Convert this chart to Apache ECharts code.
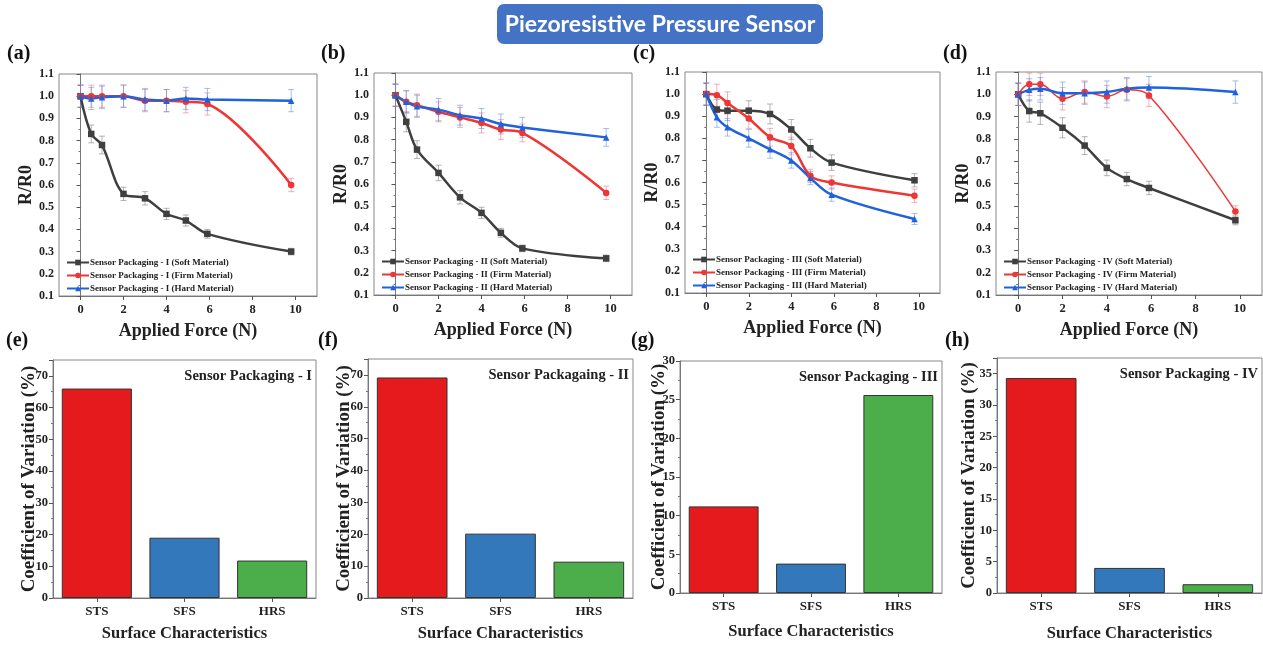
<!DOCTYPE html>
<html><head><meta charset="utf-8">
<script src="https://cdn.jsdelivr.net/npm/echarts@6/dist/echarts.min.js"></script>
<style>html,body{margin:0;padding:0;background:#fff}#main{width:1263px;height:645px}</style>
</head><body><div id="main"></div>
<script>
// ---------- data ----------
const forceX = [0, 0.5, 1, 2, 3, 4, 4.9, 5.9, 9.8];
const xTicks = [0, 2, 4, 6, 8, 10];

const softA = [1.0, 0.83, 0.78, 0.56, 0.54, 0.47, 0.44, 0.38, 0.30];
const firmA = [1.0, 1.0, 1.0, 1.0, 0.98, 0.98, 0.975, 0.965, 0.60];
const hardA = [1.0, 0.99, 0.995, 1.0, 0.985, 0.98, 0.99, 0.985, 0.98];
const softB = [1.0, 0.88, 0.755, 0.65, 0.54, 0.47, 0.38, 0.31, 0.265];
const firmB = [1.0, 0.97, 0.955, 0.925, 0.90, 0.875, 0.845, 0.83, 0.56];
const hardB = [1.0, 0.97, 0.95, 0.935, 0.91, 0.895, 0.87, 0.855, 0.81];
const softC = [1.0, 0.93, 0.925, 0.925, 0.91, 0.84, 0.755, 0.69, 0.61];
const firmC = [1.0, 0.995, 0.96, 0.89, 0.805, 0.765, 0.63, 0.60, 0.54];
const hardC = [1.0, 0.895, 0.85, 0.80, 0.75, 0.70, 0.62, 0.545, 0.435];
const softD = [1.0, 0.925, 0.915, 0.85, 0.77, 0.67, 0.62, 0.58, 0.435];
const firmD = [1.0, 1.045, 1.045, 0.98, 1.01, 0.99, 1.02, 0.995, 0.475];
const hardD = [1.0, 1.02, 1.025, 1.005, 1.005, 1.01, 1.025, 1.03, 1.01];

const errSoftA = [0.05, 0.04, 0.04, 0.03, 0.03, 0.025, 0.025, 0.02, 0.015];
const errFirmA = [0.05, 0.05, 0.05, 0.05, 0.05, 0.05, 0.05, 0.05, 0.03];
const errHardA = [0.05, 0.05, 0.05, 0.05, 0.05, 0.05, 0.05, 0.05, 0.05];
const errSoftB = [0.05, 0.045, 0.04, 0.035, 0.03, 0.025, 0.02, 0.015, 0.015];
const errFirmB = [0.05, 0.05, 0.05, 0.045, 0.045, 0.045, 0.045, 0.04, 0.03];
const errHardB = [0.05, 0.05, 0.05, 0.05, 0.045, 0.045, 0.045, 0.045, 0.04];
const errSoftC = [0.05, 0.045, 0.045, 0.045, 0.045, 0.045, 0.04, 0.035, 0.03];
const errFirmC = [0.05, 0.05, 0.05, 0.045, 0.04, 0.04, 0.03, 0.03, 0.03];
const errHardC = [0.05, 0.045, 0.04, 0.04, 0.04, 0.035, 0.03, 0.03, 0.025];
const errSoftD = [0.05, 0.05, 0.05, 0.045, 0.04, 0.035, 0.03, 0.03, 0.02];
const errFirmD = [0.05, 0.05, 0.05, 0.05, 0.05, 0.05, 0.05, 0.05, 0.025];
const errHardD = [0.05, 0.05, 0.05, 0.05, 0.05, 0.05, 0.05, 0.05, 0.05];

const surfCats = ['STS', 'SFS', 'HRS'];
const cvE = [66, 19, 11.8];
const cvF = [69.2, 20.2, 11.4];
const cvG = [11.2, 3.8, 25.6];
const cvH = [34.3, 4.0, 1.4];

const romans = ['I', 'II', 'III', 'IV'];
const panelTitles = ['Sensor Packaging - I', 'Sensor Packagaing - II', 'Sensor Packaging - III', 'Sensor Packaging - IV'];

// ---------- layout ----------
const lineGrids = [
  {left: 59, top: 74, width: 258, height: 222},
  {left: 374, top: 73, width: 258, height: 222},
  {left: 685, top: 72, width: 255, height: 221},
  {left: 996, top: 72, width: 266, height: 223}
];
const barGrids = [
  {left: 53, top: 360, width: 263, height: 238, max: 75, interval: 10, yGap: 14.5, xGap: 27},
  {left: 368, top: 359, width: 265, height: 239, max: 75, interval: 10, yGap: 14.5, xGap: 27},
  {left: 680, top: 361, width: 262, height: 232, max: 30, interval: 5, yGap: 11, xGap: 30},
  {left: 997, top: 358, width: 265, height: 235, max: 37.5, interval: 5, yGap: 18, xGap: 32}
];

const SERIF = 'Liberation Serif';
const C_SOFT = '#3f3f3f', C_FIRM = '#f03535', C_HARD = '#1f62dc';
const E_SOFT = 'rgba(120,120,120,0.55)', E_FIRM = 'rgba(240,110,130,0.55)', E_HARD = 'rgba(90,140,230,0.55)';

const lineSets = [
  [softA, firmA, hardA, errSoftA, errFirmA, errHardA],
  [softB, firmB, hardB, errSoftB, errFirmB, errHardB],
  [softC, firmC, hardC, errSoftC, errFirmC, errHardC],
  [softD, firmD, hardD, errSoftD, errFirmD, errHardD]
];
const barSets = [cvE, cvF, cvG, cvH];

const grid = [], xAxis = [], yAxis = [], series = [], legend = [], graphic = [];

function errSeries(gi, vals, errs, color) {
  return {
    type: 'custom', xAxisIndex: gi, yAxisIndex: gi, silent: true, z: 1,
    data: forceX.map((x, i) => [x, vals[i] - errs[i], vals[i] + errs[i]]),
    encode: {x: 0, y: [1, 2]},
    renderItem(params, api) {
      const lo = api.coord([api.value(0), api.value(1)]);
      const hi = api.coord([api.value(0), api.value(2)]);
      const w = 3, st = {stroke: color, lineWidth: 1};
      return {type: 'group', children: [
        {type: 'line', shape: {x1: lo[0], y1: lo[1], x2: hi[0], y2: hi[1]}, style: st},
        {type: 'line', shape: {x1: lo[0] - w, y1: lo[1], x2: lo[0] + w, y2: lo[1]}, style: st},
        {type: 'line', shape: {x1: hi[0] - w, y1: hi[1], x2: hi[0] + w, y2: hi[1]}, style: st}
      ]};
    }
  };
}

const tickLabelStyle = {fontFamily: SERIF, fontWeight: 'bold', fontSize: 12, color: '#222'};
const axisNameStyle = {fontFamily: SERIF, fontWeight: 'bold', fontSize: 18, color: '#222'};

lineGrids.forEach((g, i) => {
  grid.push({left: g.left, top: g.top, width: g.width, height: g.height, show: true, borderColor: '#888', borderWidth: 1, containLabel: false});
  xAxis.push({
    type: 'value', gridIndex: i, min: -1, max: 11,
    axisLine: {show: true, lineStyle: {color: '#777'}},
    axisTick: {show: true, customValues: xTicks, length: 4, lineStyle: {color: '#555'}},
    axisLabel: Object.assign({customValues: xTicks, margin: 7}, tickLabelStyle, {fontSize: 12.5}),
    splitLine: {show: false},
    name: 'Applied Force (N)', nameLocation: 'middle', nameGap: 26, nameTextStyle: axisNameStyle
  });
  yAxis.push({
    type: 'value', gridIndex: i, min: 0.1, max: 1.1, interval: 0.1,
    axisLine: {show: true, lineStyle: {color: '#777'}},
    axisTick: {show: true, length: 4, lineStyle: {color: '#555'}},
    minorTick: {show: true, splitNumber: 2, length: 2, lineStyle: {color: '#777'}},
    axisLabel: Object.assign({margin: 5, formatter: v => v.toFixed(1)}, tickLabelStyle),
    splitLine: {show: false},
    name: 'R/R0', nameLocation: 'middle', nameGap: 24, nameTextStyle: axisNameStyle
  });
  const [s, f, h, es, ef, eh] = lineSets[i];
  const r = romans[i];
  const names = [
    'Sensor Packaging - ' + r + ' (Soft Material)',
    'Sensor Packaging - ' + r + ' (Firm Material)',
    'Sensor Packaging - ' + r + ' (Hard Material)'
  ];
  series.push(errSeries(i, s, es, E_SOFT), errSeries(i, f, ef, E_FIRM), errSeries(i, h, eh, E_HARD));
  const mk = (name, vals, color, sym, lw) => ({
    type: 'line', name, xAxisIndex: i, yAxisIndex: i, smooth: 0.35, z: 3,
    data: forceX.map((x, k) => [x, vals[k]]),
    symbol: sym, symbolSize: 6.5, showAllSymbol: true,
    lineStyle: {color, width: lw}, itemStyle: {color, borderWidth: 0},
    emphasis: {disabled: true}
  });
  series.push(
    mk(names[0], s, C_SOFT, 'rect', 2.5),
    mk(names[1], f, C_FIRM, 'circle', i === 3 ? 1.5 : 2.5),
    mk(names[2], h, C_HARD, 'triangle', 2.5)
  );
  legend.push({
    data: names, orient: 'vertical', left: g.left + 7, top: g.top + g.height - 38,
    itemWidth: 22, itemHeight: 7, itemGap: 4, padding: 0, selectedMode: false,
    textStyle: {fontFamily: SERIF, fontWeight: 'bold', fontSize: 9, color: '#222', padding: [0, 0, 0, -4]}
  });
});

barGrids.forEach((g, j) => {
  const i = j + 4;
  grid.push({left: g.left, top: g.top, width: g.width, height: g.height, show: true, borderColor: '#888', borderWidth: 1, containLabel: false});
  xAxis.push({
    type: 'category', gridIndex: i, data: surfCats,
    axisLine: {show: true, lineStyle: {color: '#777'}},
    axisTick: {show: true, alignWithLabel: true, length: 4, lineStyle: {color: '#555'}},
    axisLabel: Object.assign({}, tickLabelStyle, {fontSize: 13, margin: 7}),
    name: 'Surface Characteristics', nameLocation: 'middle', nameGap: g.xGap, nameMoveOverlap: false,
    nameTextStyle: Object.assign({}, axisNameStyle, {fontSize: 16.5})
  });
  yAxis.push({
    type: 'value', gridIndex: i, min: 0, max: g.max, interval: g.interval,
    axisLine: {show: true, lineStyle: {color: '#777'}},
    axisTick: {show: true, length: 4, lineStyle: {color: '#555'}},
    minorTick: {show: true, splitNumber: 2, length: 2, lineStyle: {color: '#777'}},
    axisLabel: Object.assign({margin: 5, showMaxLabel: g.max % g.interval === 0}, tickLabelStyle, {fontSize: 12.5}),
    splitLine: {show: false},
    name: 'Coefficient of Variation (%)', nameLocation: 'middle', nameGap: g.yGap, nameMoveOverlap: false,
    nameTextStyle: Object.assign({}, axisNameStyle, {fontSize: 19})
  });
  const colors = ['#e41a1c', '#3378bb', '#4cae4b'];
  series.push({
    type: 'bar', xAxisIndex: i, yAxisIndex: i, barWidth: '80%',
    data: barSets[j].map((v, k) => ({value: v, itemStyle: {color: colors[k]}})),
    itemStyle: {borderColor: '#333', borderWidth: 1},
    emphasis: {disabled: true}
  });
  graphic.push({
    type: 'text', right: 1263 - (g.left + g.width) + 4, top: g.top + 9,
    style: {text: panelTitles[j], font: 'bold 14.5px "Liberation Serif"', fill: '#222'}
  });
});

// panel letters
const letters = ['(a)', '(b)', '(c)', '(d)', '(e)', '(f)', '(g)', '(h)'];
const letterPos = [[7, 44], [321, 44], [633, 44], [943, 44], [6, 331], [318, 331], [631, 331], [945, 331]];
letters.forEach((t, k) => {
  graphic.push({type: 'text', left: letterPos[k][0], top: letterPos[k][1],
    style: {text: t, font: 'bold 20px "Liberation Serif"', fill: '#111'}});
});

// title box
graphic.push({
  type: 'group', left: 497, top: 4, children: [
    {type: 'rect', shape: {x: 0, y: 0, width: 326, height: 40, r: 7}, style: {fill: '#4472c4'}},
    {type: 'text', x: 163, y: 21, style: {text: 'Piezoresistive Pressure Sensor', font: 'bold 23px Lato', fill: '#fff', align: 'center', verticalAlign: 'middle'}}
  ]
});

const chart = echarts.init(document.getElementById('main'), null, {renderer: 'canvas'});
chart.setOption({animation: false, backgroundColor: '#fff', grid, xAxis, yAxis, series, legend, graphic});
</script>
</body></html>
